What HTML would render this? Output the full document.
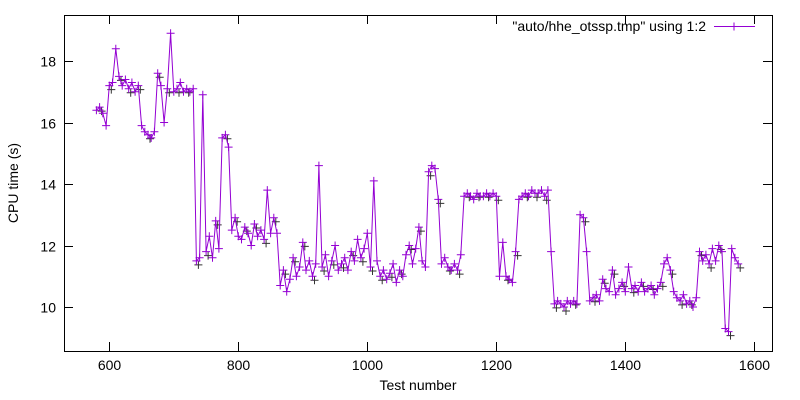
<!DOCTYPE html>
<html><head><meta charset="utf-8"><style>
body{margin:0;background:#fff;}
svg{display:block;font-family:"Liberation Sans",sans-serif;}
</style></head><body>
<svg id="chart" width="800" height="400" viewBox="0 0 800 400" xmlns="http://www.w3.org/2000/svg">
<rect x="0" y="0" width="800" height="400" fill="#fff"/>
<g id="grid-ticks"></g>
<g id="series"></g>
<rect x="64.5" y="15.5" width="708" height="336" fill="none" stroke="#000" stroke-width="1"/>
<text x="18" y="183" font-size="14" text-anchor="middle" transform="rotate(-90 18 183)">CPU time (s)</text>
<text x="418" y="390" font-size="14" text-anchor="middle">Test number</text>
<g>
<text x="706" y="31" font-size="14" text-anchor="end">"auto/hhe_otssp.tmp" using 1:2</text>
<line x1="714" y1="26.5" x2="755" y2="26.5" stroke="#9400d3" stroke-width="1"/>
<path d="M730,26.5h8M734,22.5v8" stroke="#9400d3" stroke-width="1"/>
</g>
</svg>
<script>
const xTicks=[600,800,1000,1200,1400,1600];
const yTicks=[10,12,14,16,18];
const startTest=580;
const stepTest=5;
const cpuTimes=[16.4,16.5,16.3,15.9,17.2,17.3,18.4,17.5,17.2,17.4,17.1,17.3,17.0,17.2,15.9,15.7,15.6,15.5,15.7,17.6,17.2,16.0,17.1,18.9,17.0,17.1,17.3,17.0,17.1,17.0,17.1,11.5,11.6,16.9,11.8,12.3,11.6,12.8,11.9,15.5,15.6,15.2,12.5,12.9,12.3,12.2,12.6,12.4,12.0,12.7,12.3,12.5,12.2,13.8,12.4,12.9,12.4,10.7,11.2,10.5,10.9,11.6,11.0,11.3,12.1,11.2,11.5,11.0,11.4,14.6,11.3,11.7,11.0,11.5,12.0,11.2,11.4,11.6,11.2,11.8,11.5,12.2,11.6,11.9,12.4,11.3,14.1,11.5,11.0,11.2,10.9,11.1,11.4,10.8,11.2,11.0,11.7,12.0,11.4,11.9,12.6,11.5,11.3,14.4,14.6,14.5,13.5,11.4,11.6,11.3,11.2,11.4,11.2,11.7,13.6,13.7,13.6,13.5,13.7,13.6,13.6,13.7,13.6,13.7,13.6,11.0,12.1,11.0,10.9,10.8,11.8,13.5,13.6,13.7,13.6,13.8,13.7,13.7,13.8,13.6,13.8,11.8,10.1,10.2,10.1,10.0,10.2,10.1,10.2,10.1,13.0,12.9,11.8,10.2,10.3,10.4,10.2,10.9,10.6,10.5,11.2,10.4,10.6,10.8,10.5,11.3,10.6,10.7,10.5,10.8,10.5,10.6,10.7,10.4,10.6,10.8,11.4,11.6,11.2,10.5,10.3,10.2,10.4,10.1,10.2,10.0,10.3,11.8,11.5,11.7,11.4,11.9,11.5,12.0,11.8,9.3,9.2,11.9,11.6,11.4];
const NS='http://www.w3.org/2000/svg';
function xs(v){return 109.3+(v-600)*0.645;}
function ys(v){return 307-(v-10)*30.75;}
const tg=document.getElementById('grid-ticks');
xTicks.forEach(t=>{
  const x=Math.round(xs(t))+0.5;
  const p=document.createElementNS(NS,'path');
  p.setAttribute('d',`M${x},351V342M${x},15V24`);
  p.setAttribute('stroke','#000');
  
  
  tg.appendChild(p);
  const tx=document.createElementNS(NS,'text');
  tx.setAttribute('x',x);tx.setAttribute('y',370);
  tx.setAttribute('font-size','14');tx.setAttribute('text-anchor','middle');
  
  
  tx.textContent=t;tg.appendChild(tx);
});
yTicks.forEach(t=>{
  const y=Math.round(ys(t))+0.5;
  const p=document.createElementNS(NS,'path');
  p.setAttribute('d',`M64,${y}H73M772,${y}H763`);
  p.setAttribute('stroke','#000');
  
  
  tg.appendChild(p);
  const tx=document.createElementNS(NS,'text');
  tx.setAttribute('x',56);tx.setAttribute('y',y+5);
  tx.setAttribute('font-size','14');tx.setAttribute('text-anchor','end');
  
  
  tx.textContent=t;tg.appendChild(tx);
});
const sg=document.getElementById('series');
let d='',m='',mb='';
cpuTimes.forEach((v,i)=>{
  const x=xs(startTest+i*stepTest),y=ys(v);
  d+=(i?'L':'M')+x.toFixed(1)+','+y.toFixed(1);
  m+=`M${(x-4).toFixed(1)},${y.toFixed(1)}h8M${x.toFixed(1)},${(y-4).toFixed(1)}v8`;
  if(i%3===1) mb+=`M${(x-2).toFixed(1)},${(y+4).toFixed(1)}h8M${(x+2).toFixed(1)},${y.toFixed(1)}v8`;
});
const pb=document.createElementNS(NS,'path');
pb.setAttribute('d',mb);pb.setAttribute('stroke','#333');pb.setAttribute('fill','none');


sg.appendChild(pb);
const pl=document.createElementNS(NS,'path');
pl.setAttribute('d',d);pl.setAttribute('stroke','#9400d3');pl.setAttribute('fill','none');


sg.appendChild(pl);
const pm=document.createElementNS(NS,'path');
pm.setAttribute('d',m);pm.setAttribute('stroke','#9400d3');pm.setAttribute('fill','none');


sg.appendChild(pm);
</script>
</body></html>
